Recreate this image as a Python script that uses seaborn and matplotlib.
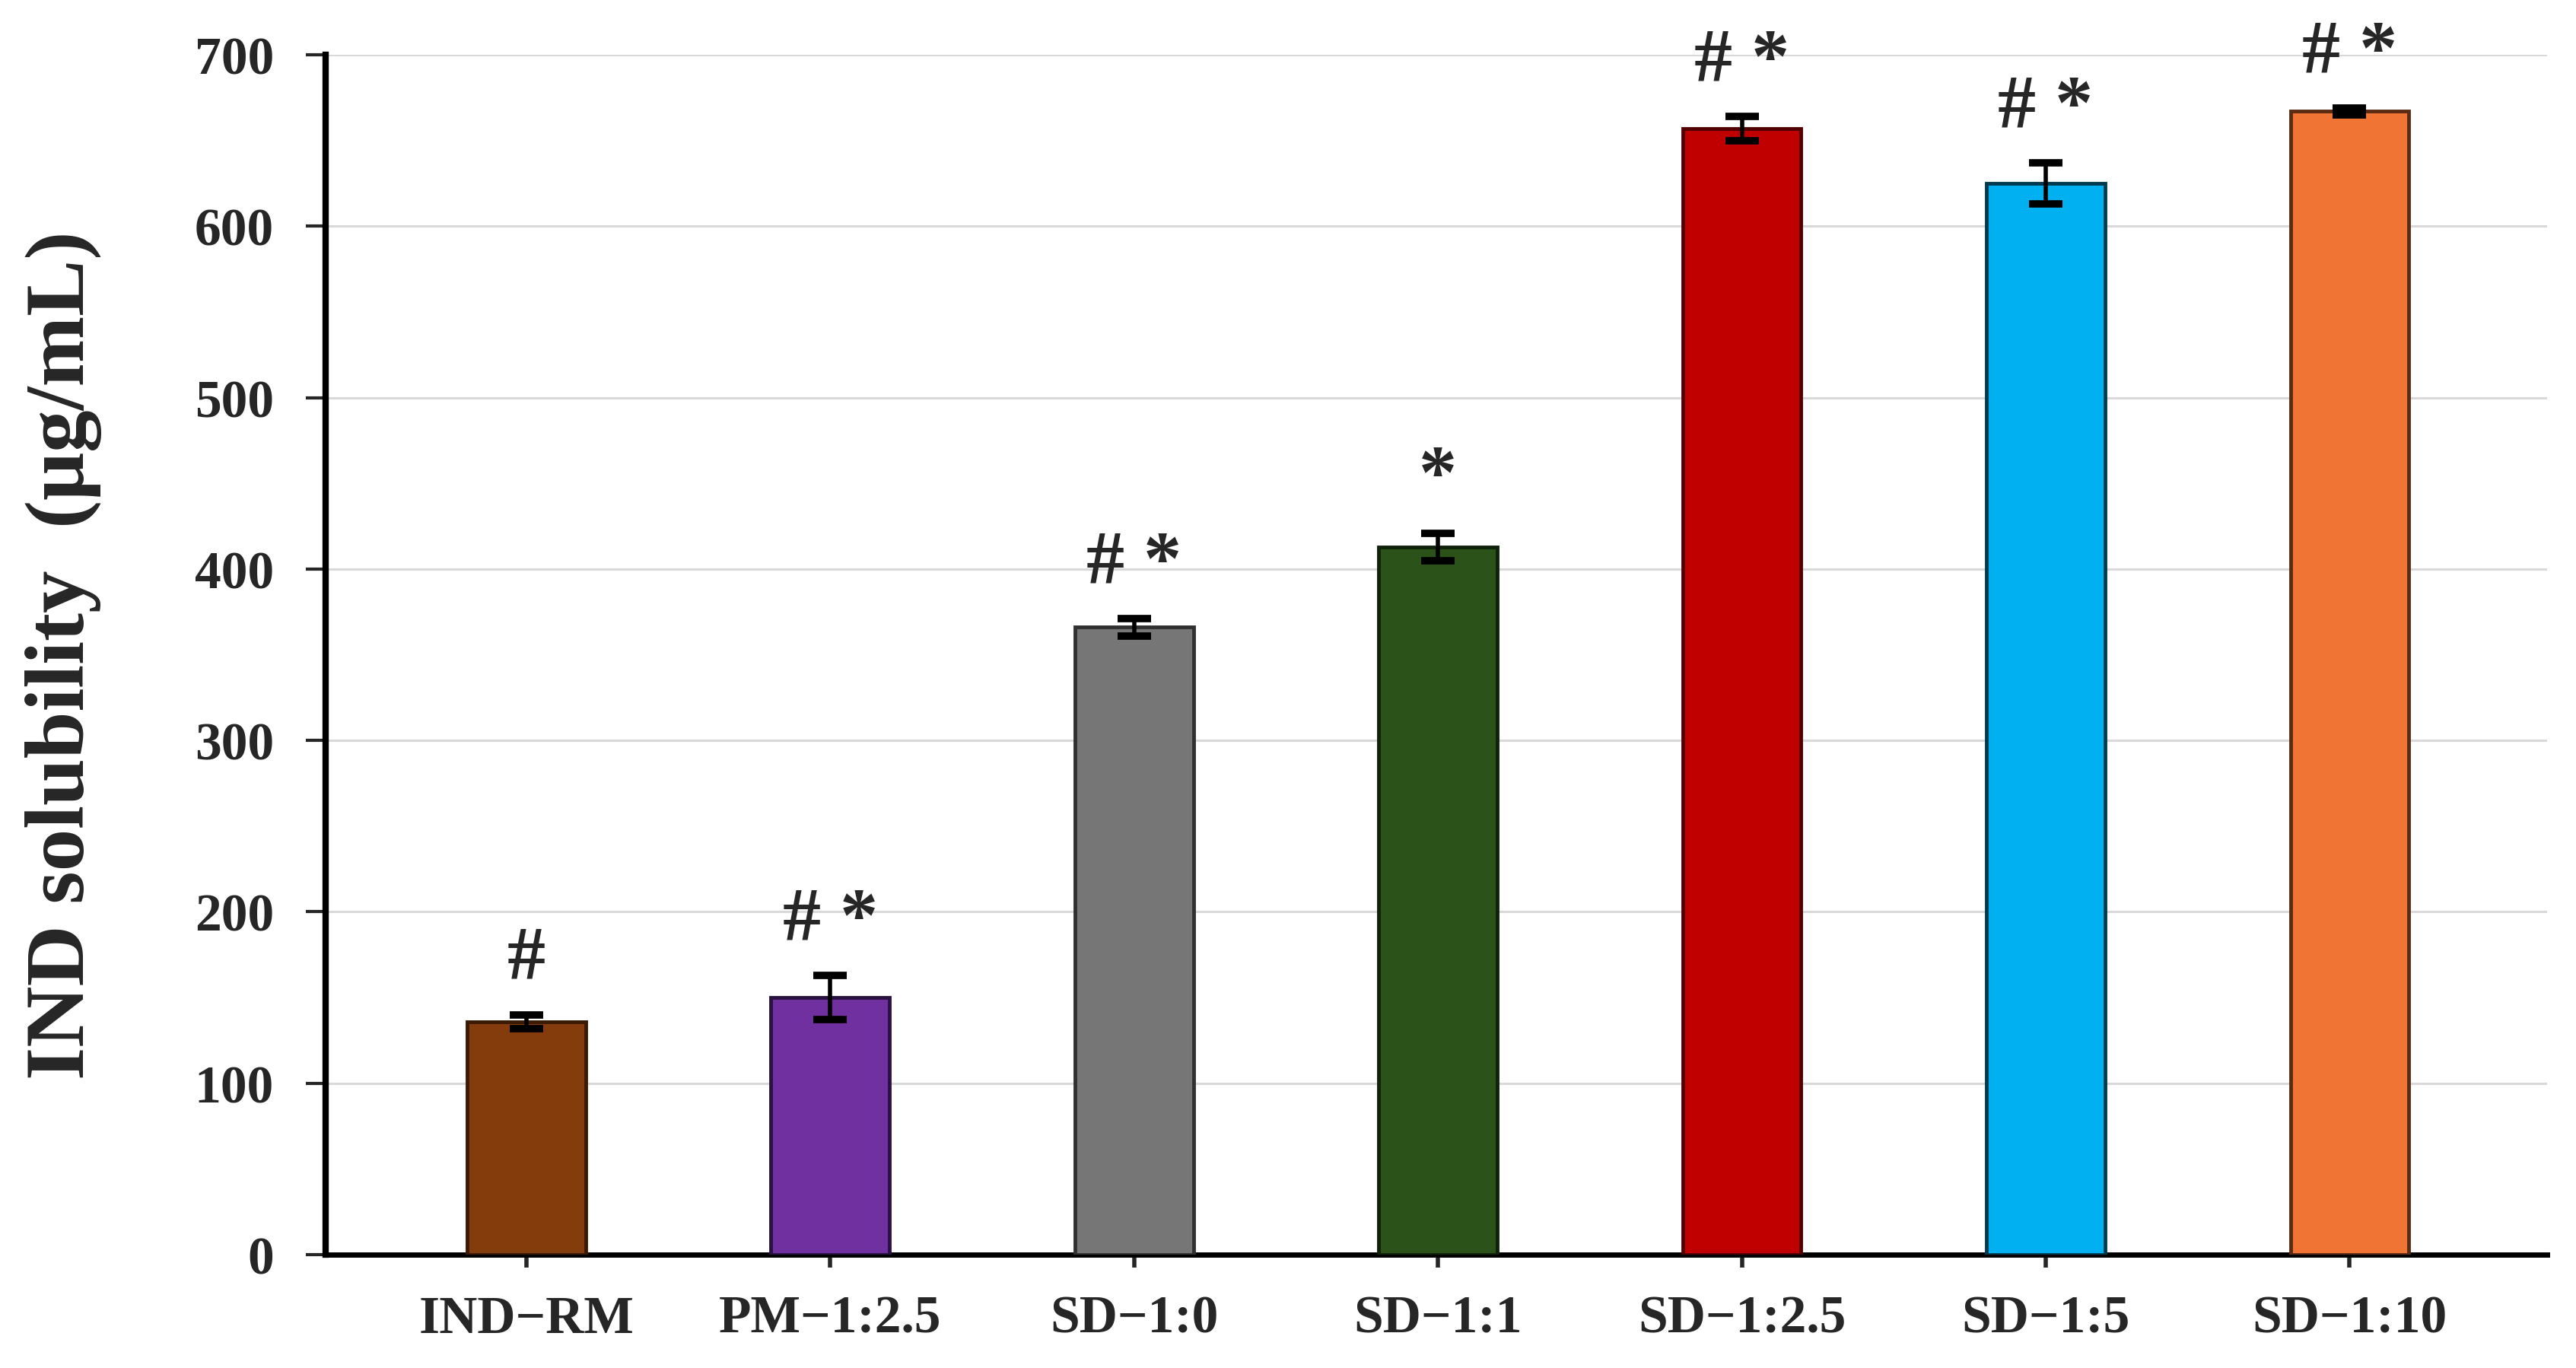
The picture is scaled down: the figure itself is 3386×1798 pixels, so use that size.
import matplotlib
matplotlib.use("Agg")
import matplotlib.pyplot as plt
import seaborn as sns
import pandas as pd

categories = ["IND\u2212RM", "PM\u22121:2.5", "SD\u22121:0", "SD\u22121:1", "SD\u22121:2.5", "SD\u22121:5", "SD\u22121:10"]
solubility = [136, 150, 366, 413, 657, 625, 667]
errors = [4, 13, 5, 8, 7, 12, 2]
marks = ["#", "# *", "# *", "*", "# *", "# *", "# *"]
colors = ["#843C0C", "#7030A0", "#767676", "#2A5219", "#C00000", "#00B0F0", "#F07535"]
edges = ["#3A1A05", "#2A1240", "#303030", "#0F220A", "#500000", "#003A50", "#5A2A12"]
yticks = [0, 100, 200, 300, 400, 500, 600, 700]

sns.set_theme(style="white")
plt.rcParams['font.family'] = ['Liberation Serif', 'DejaVu Serif']
plt.rcParams['font.weight'] = 'bold'

df = pd.DataFrame({"cat": categories, "val": solubility})

fig = plt.figure(figsize=(33.87, 17.99), dpi=100)
ax = fig.add_axes([0.1264, 0.0828, 0.9885 - 0.1264, 0.9594 - 0.0828])

sns.barplot(data=df, x="cat", y="val", hue="cat", palette=colors, legend=False,
            width=0.39, saturation=1, ax=ax, zorder=3)
for patch, ec in zip(ax.patches, edges):
    patch.set_edgecolor(ec)
    patch.set_linewidth(3.5)

xpos = list(range(len(categories)))
ax.errorbar(xpos, solubility, yerr=errors, fmt="none", ecolor="black",
            elinewidth=4, capsize=16, capthick=7, zorder=4)

for x, v, e, m in zip(xpos, solubility, errors, marks):
    ax.annotate(m, xy=(x, v + e), xytext=(0, 20), textcoords="offset points",
                ha="center", va="bottom", fontsize=72, fontweight="bold",
                family=['Liberation Serif', 'DejaVu Serif'], zorder=5)

ax.set_ylim(0, 700)
ax.set_xlim(-0.66, 6.65)
ax.set_yticks(yticks)
ax.set_yticklabels([str(t) for t in yticks])
ax.yaxis.grid(True, color="#D9D9D9", linewidth=2.2, zorder=0)
ax.xaxis.grid(False)
ax.set_axisbelow(True)

for s in ["top", "right"]:
    ax.spines[s].set_visible(False)
ax.spines["left"].set_linewidth(6)
ax.spines["bottom"].set_linewidth(5)
ax.spines["left"].set_color("black")
ax.spines["bottom"].set_color("black")

ax.tick_params(axis="y", direction="out", length=19, width=3, pad=30,
               labelsize=50, left=True)
ax.tick_params(axis="x", direction="out", length=12, width=4, pad=26,
               labelsize=50, bottom=True)
for lbl in ax.get_xticklabels() + ax.get_yticklabels():
    lbl.set_fontweight("bold")

ax.set_xlabel("")
ax.set_ylabel("IND solubility  (\u03bcg/mL)", fontsize=80, fontweight="bold")
ax.yaxis.set_label_coords(-0.1007, 0.5)

fig.savefig("out.png", dpi=100, facecolor="white")
